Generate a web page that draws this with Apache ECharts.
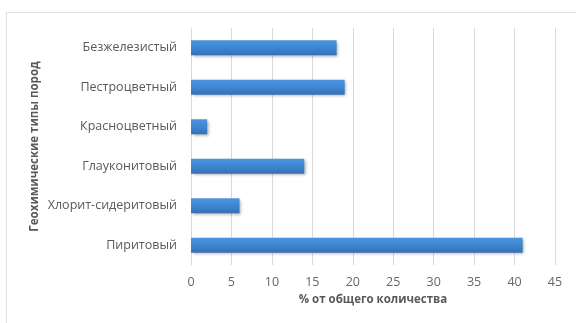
<!DOCTYPE html>
<html>
<head>
<meta charset="utf-8">
<script src="https://cdn.jsdelivr.net/npm/echarts@6/dist/echarts.min.js"></script>
<style>
  html, body { margin: 0; padding: 0; background: #ffffff; }
  #chart { width: 576px; height: 323px; }
</style>
</head>
<body>
<div id="chart"></div>
<script>
// Rock types, listed bottom to top as the category axis draws them
const categories = [
  'Пиритовый',
  'Хлорит-сидеритовый',
  'Глауконитовый',
  'Красноцветный',
  'Пестроцветный',
  'Безжелезистый'
];
// Share of the total, %
const shares = [41, 6, 14, 2, 19, 18];

const xAxisName = '% от общего количества';
const yAxisName = 'Геохимические типы пород';

const FONT = '"Open Sans", "Noto Sans", sans-serif';
const TEXT = '#595959';
const GRID = '#d9d9d9';

const chart = echarts.init(document.getElementById('chart'), null, { renderer: 'canvas' });

chart.setOption({
  animation: false,
  backgroundColor: '#ffffff',
  graphic: [{
    type: 'rect',
    shape: { x: 6.5, y: 12.5, width: 620, height: 400 },
    style: { fill: 'none', stroke: '#dde1e6', lineWidth: 1 },
    silent: true
  }],
  grid: { left: 191, right: 21, top: 28, bottom: 58 },
  xAxis: {
    type: 'value',
    min: 0,
    max: 45,
    interval: 5,
    name: xAxisName,
    nameLocation: 'middle',
    nameGap: 27,
    nameTextStyle: { color: TEXT, fontFamily: FONT, fontSize: 11.5, fontWeight: 'bold' },
    axisLine: { show: false },
    axisTick: { show: false },
    axisLabel: { color: '#666666', fontFamily: FONT, fontSize: 12.5, margin: 11 },
    splitLine: { show: true, lineStyle: { color: GRID, width: 1 } }
  },
  yAxis: {
    type: 'category',
    data: categories,
    name: yAxisName,
    nameLocation: 'middle',
    nameGap: 150,
    nameMoveOverlap: false,
    nameRotate: 90,
    nameTextStyle: { color: TEXT, fontFamily: FONT, fontSize: 11.5, fontWeight: 'bold' },
    axisLine: { show: true, lineStyle: { color: GRID } },
    axisTick: { show: false },
    axisLabel: { color: TEXT, fontFamily: FONT, fontSize: 12.5, margin: 14 }
  },
  series: [{
    type: 'bar',
    data: shares,
    barWidth: 15,
    itemStyle: {
      color: new echarts.graphic.LinearGradient(0, 0, 0, 1, [
        { offset: 0, color: '#4a95e0' },
        { offset: 0.5, color: '#3f86d2' },
        { offset: 1, color: '#3570b4' }
      ]),
      shadowColor: 'rgba(0,0,0,0.35)',
      shadowBlur: 3,
      shadowOffsetX: 1.5,
      shadowOffsetY: 1.5
    }
  }]
});
</script>
</body>
</html>
